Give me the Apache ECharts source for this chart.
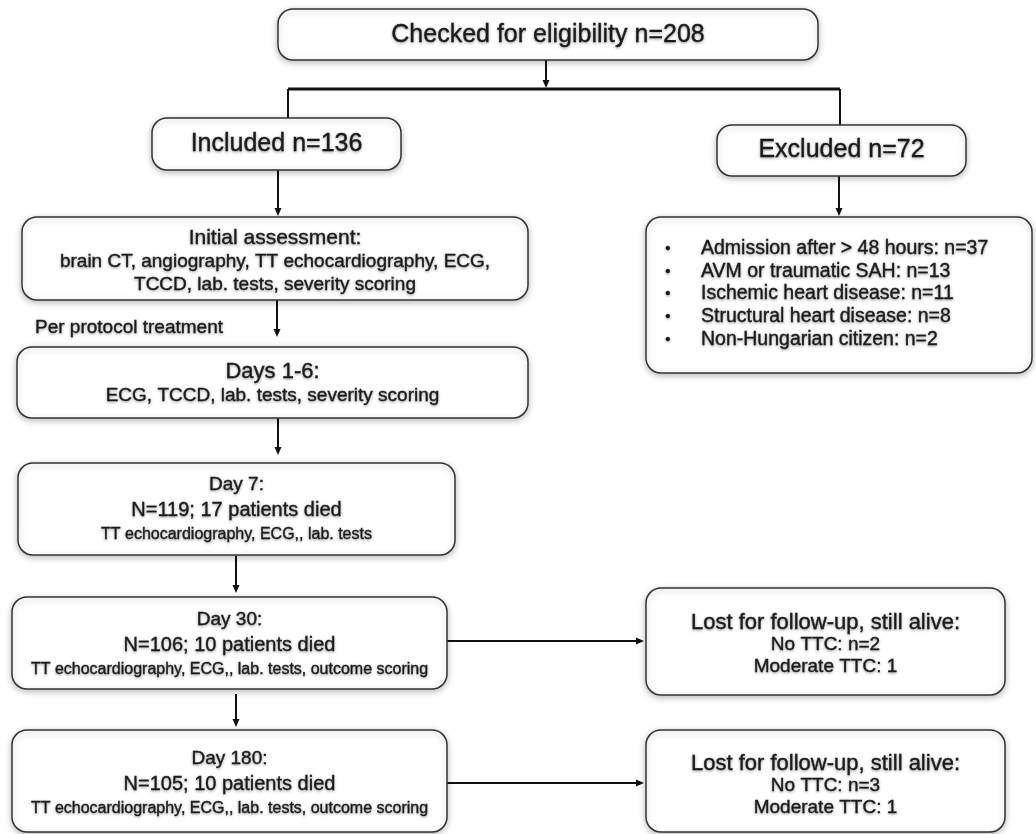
<!DOCTYPE html>
<html>
<head>
<meta charset="utf-8">
<script src="https://cdn.jsdelivr.net/npm/echarts@6/dist/echarts.min.js"></script>
<style>
html,body{margin:0;padding:0;background:#fff;}
#chart{width:1036px;height:834px;}
</style>
</head>
<body>
<div id="chart"></div>
<script>
// ---------- content (text of each box) ----------
const checkedText   = ['Checked for eligibility n=208'];
const includedText  = ['Included n=136'];
const excludedText  = ['Excluded n=72'];
const initialText   = ['Initial assessment:', 'brain CT, angiography, TT echocardiography, ECG,', 'TCCD, lab. tests, severity scoring'];
const exclusionReasons = ['Admission after \u003E 48 hours: n=37', 'AVM or traumatic SAH: n=13', 'Ischemic heart disease: n=11', 'Structural heart disease: n=8', 'Non-Hungarian citizen: n=2'];
const days1to6Text  = ['Days 1-6:', 'ECG, TCCD, lab. tests, severity scoring'];
const day7Text      = ['Day 7:', 'N=119; 17 patients died', 'TT echocardiography, ECG,, lab. tests'];
const day30Text     = ['Day 30:', 'N=106; 10 patients died', 'TT echocardiography, ECG,, lab. tests, outcome scoring'];
const day180Text    = ['Day 180:', 'N=105; 10 patients died', 'TT echocardiography, ECG,, lab. tests, outcome scoring'];
const lost30Text    = ['Lost for follow-up, still alive:', 'No TTC: n=2', 'Moderate TTC: 1'];
const lost180Text   = ['Lost for follow-up, still alive:', 'No TTC: n=3', 'Moderate TTC: 1'];
const sideNoteText  = 'Per protocol treatment';

const boxContent = {
  checked: checkedText, included: includedText, excluded: excludedText,
  initial: initialText, exclusions: exclusionReasons, days1to6: days1to6Text,
  day7: day7Text, day30: day30Text, day180: day180Text,
  lost30: lost30Text, lost180: lost180Text
};

// ---------- layout (diagram units = 1036 x 834 canvas) ----------
const boxLayout = [
  {id:'checked',    box:[278,9,818,60],    ys:[35],               sizes:[25]},
  {id:'included',   box:[152,118,401,170], ys:[144],              sizes:[25]},
  {id:'excluded',   box:[717,125,966,176], ys:[150],              sizes:[25]},
  {id:'initial',    box:[22,217,528,300],  ys:[238,262,285],      sizes:[21,19,19]},
  {id:'exclusions', box:[646,217,1032,373],ys:[249,272,294,317,340], sizes:[19.5,19.5,19.5,19.5,19.5], list:true, textX:701, bulletX:668},
  {id:'days1to6',   box:[17,347,528,418],  ys:[372,396],          sizes:[22,19]},
  {id:'day7',       box:[18,463,455,555],  ys:[485,510,535],      sizes:[19,20,16]},
  {id:'day30',      box:[12,597,447,689],  ys:[620,645,670],      sizes:[19,20,16]},
  {id:'day180',     box:[12,730,447,832],  ys:[759,784,809],      sizes:[19,20,16]},
  {id:'lost30',     box:[646,588,1005,695],ys:[623,645,667],      sizes:[22,19,19]},
  {id:'lost180',    box:[646,730,1005,832],ys:[764,786,808],      sizes:[22,19,19]}
];
// connectors: [x0,y0,x1,y1, arrowhead?, lineWidth]
const connectors = [
  [546,60,546,88,1,2],
  [288,89,840,89,0,3],
  [288,89,288,118,0,2],
  [840,89,840,125,0,2],
  [278,170,278,216,1,2],
  [839,176,839,216,1,2],
  [277,300,277,337,1,2],
  [278,418,278,455,1,2],
  [236,556,236,593,1,2],
  [236,694,236,727,1,2],
  [447,641,644,641,1,2],
  [447,783,644,783,1,2]
];
const sideNoteLayout = {x:35, y:328, size:19};

const FONT = '"Liberation Sans", Arial, Helvetica, sans-serif';
const TEXT_COLOR = '#1a1a1a';

function textEl(str, x, y, size, align) {
  return {
    type: 'text',
    style: {
      text: str, x: x, y: y, fill: TEXT_COLOR,
      stroke: TEXT_COLOR, lineWidth: 0.35,
      font: size + 'px ' + FONT,
      align: align || 'center', verticalAlign: 'middle',
      textShadowBlur: 3, textShadowColor: 'rgba(0,0,0,0.35)', textShadowOffsetY: 1
    }
  };
}

function renderBox(params, api) {
  const b = boxLayout[params.dataIndex];
  const p0 = api.coord([b.box[0], b.box[1]]);
  const p1 = api.coord([b.box[2], b.box[3]]);
  const lines = boxContent[b.id];
  const children = [{
    type: 'rect',
    shape: {x: p0[0], y: p0[1], width: p1[0] - p0[0], height: p1[1] - p0[1], r: 15},
    style: {fill: '#fff', stroke: '#333', lineWidth: 1.5,
            shadowBlur: 6, shadowColor: 'rgba(0,0,0,0.25)', shadowOffsetY: 2}
  }];
  const cx = (p0[0] + p1[0]) / 2;
  lines.forEach(function (ln, i) {
    const y = api.coord([0, b.ys[i]])[1];
    if (b.list) {
      children.push(textEl('\u2022', api.coord([b.bulletX, 0])[0], y, 15, 'center'));
      children.push(textEl(ln, api.coord([b.textX, 0])[0], y, b.sizes[i], 'left'));
    } else {
      children.push(textEl(ln, cx, y, b.sizes[i], 'center'));
    }
  });
  return {type: 'group', children: children};
}

function renderConnector(params, api) {
  const c = connectors[params.dataIndex];
  const a = api.coord([c[0], c[1]]);
  const e = api.coord([c[2], c[3]]);
  const children = [];
  const head = 8, half = 3.5;
  let lineEnd = e.slice();
  if (c[4]) {
    const dx = e[0] - a[0], dy = e[1] - a[1];
    const len = Math.sqrt(dx * dx + dy * dy);
    const ux = dx / len, uy = dy / len;
    const bx = e[0] - ux * head, by = e[1] - uy * head;
    lineEnd = [bx + ux * 1, by + uy * 1];
    children.push({
      type: 'polygon',
      shape: {points: [[e[0], e[1]], [bx - uy * half, by + ux * half], [bx + uy * half, by - ux * half]]},
      style: {fill: '#111'}
    });
  }
  children.unshift({
    type: 'line',
    shape: {x1: a[0], y1: a[1], x2: lineEnd[0], y2: lineEnd[1]},
    style: {stroke: '#111', lineWidth: c[5]}
  });
  return {type: 'group', children: children};
}

function renderNote(params, api) {
  const p = api.coord([sideNoteLayout.x, sideNoteLayout.y]);
  return textEl(sideNoteText, p[0], p[1], sideNoteLayout.size, 'left');
}

const chart = echarts.init(document.getElementById('chart'), null, {renderer: 'canvas'});
chart.setOption({
  backgroundColor: '#fff',
  animation: false,
  grid: {left: 0, right: 0, top: 0, bottom: 0},
  xAxis: {type: 'value', min: 0, max: 1036, show: false},
  yAxis: {type: 'value', min: 0, max: 834, inverse: true, show: false},
  series: [
    {type: 'custom', clip: false, silent: true, renderItem: renderConnector,
     data: connectors.map(function (c) { return [c[0], c[1]]; }), z: 1},
    {type: 'custom', clip: false, silent: true, renderItem: renderBox,
     data: boxLayout.map(function (b) { return [(b.box[0] + b.box[2]) / 2, (b.box[1] + b.box[3]) / 2]; }), z: 2},
    {type: 'custom', clip: false, silent: true, renderItem: renderNote, data: [[sideNoteLayout.x, sideNoteLayout.y]], z: 3}
  ]
});
</script>
</body>
</html>
